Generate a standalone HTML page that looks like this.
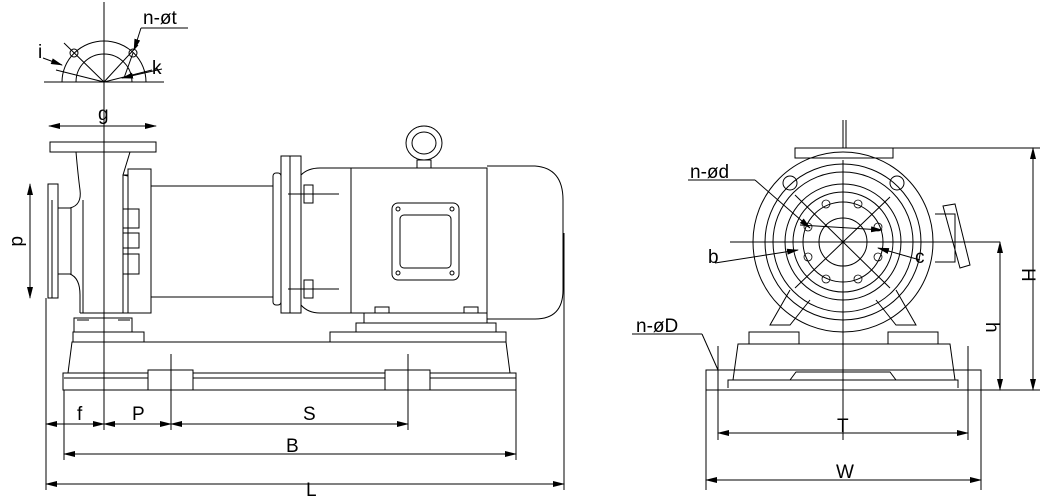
<!DOCTYPE html>
<html><head><style>
body{margin:0;background:#fff;}
svg{display:block}
text{font-family:"Liberation Sans",sans-serif;font-size:19px;fill:#000}
</style></head><body>
<svg width="1055" height="498" viewBox="0 0 1055 498" xmlns="http://www.w3.org/2000/svg">
<defs><marker id="a" markerWidth="12" markerHeight="6" refX="11" refY="3" orient="auto-start-reverse" markerUnits="userSpaceOnUse"><path d="M0,0 L12,3 L0,6z" fill="#000"/></marker></defs>
<g fill="none" stroke="#000" stroke-width="1">
<!-- small flange detail -->
<line x1="104" y1="2" x2="104" y2="92"/>
<line x1="44" y1="82" x2="164" y2="82"/>
<path d="M62,82 A42,41 0 0 1 146,82"/>
<path d="M76,82 A28,28 0 0 1 132,82"/>
<circle cx="74" cy="53" r="4"/><circle cx="133" cy="53" r="4"/>
<line x1="104" y1="82" x2="64" y2="43"/><line x1="104" y1="82" x2="138" y2="45"/>
<line x1="104" y1="82" x2="152" y2="70"/><line x1="104" y1="82" x2="56" y2="70"/>
<line x1="141" y1="28" x2="188" y2="28"/><line x1="141" y1="28" x2="134" y2="50" marker-end="url(#a)"/>
<line x1="133" y1="53" x2="124" y2="78"/>
<line x1="43" y1="58" x2="62" y2="65" marker-end="url(#a)"/>
<line x1="162" y1="69" x2="122" y2="78" marker-end="url(#a)"/>
<!-- g dim -->
<line x1="49" y1="126" x2="156" y2="126" marker-start="url(#a)" marker-end="url(#a)"/>
<!-- pump -->
<rect x="50" y="142" width="106" height="10"/>
<line x1="68" y1="142" x2="138" y2="142"/>
<path d="M76,152 Q78,175 80,190 Q82,205 70,208 L58,208"/>
<path d="M58,274 L70,274 Q80,278 80,295 L80,313"/>
<path d="M130,152 L123,175 L128,176"/>
<rect x="48" y="184" width="10" height="114"/>
<line x1="52" y1="200" x2="52" y2="298"/>
<rect x="58" y="208" width="13" height="66"/>
<line x1="83" y1="200" x2="83" y2="313"/>
<line x1="80" y1="313" x2="128" y2="313"/>
<rect x="128" y="169" width="23" height="144"/>
<rect x="123" y="175" width="5" height="138"/>
<rect x="123" y="209" width="16" height="19"/><rect x="123" y="233" width="16" height="15"/><rect x="123" y="254" width="16" height="20"/>
<rect x="151" y="186" width="122" height="111"/>
<rect x="273" y="173" width="8" height="132" rx="3"/>
<rect x="281" y="156" width="20" height="157"/><line x1="290" y1="156" x2="290" y2="313"/>
<path d="M301,175 Q308,168 320,168 L487,168 L487,313 L320,313 Q308,313 301,305"/>
<line x1="351" y1="168" x2="351" y2="313"/>
<rect x="304" y="185" width="9" height="18"/><rect x="304" y="280" width="9" height="18"/>
<line x1="288" y1="194" x2="339" y2="194"/><line x1="288" y1="289" x2="339" y2="289"/>
<path d="M487,166 L535,166 Q563,168 563,200 L563,290 Q563,319 535,319 L487,319"/>
<ellipse cx="424" cy="143" rx="18" ry="17"/><ellipse cx="424" cy="143" rx="12" ry="11"/>
<rect x="417" y="160" width="14" height="8"/>
<rect x="392" y="203" width="67" height="77" rx="6"/><rect x="400" y="215" width="51" height="53" rx="4"/>
<circle cx="398" cy="209" r="2"/><circle cx="452" cy="209" r="2"/><circle cx="398" cy="273" r="2"/><circle cx="452" cy="273" r="2"/>
<!-- feet & base -->
<rect x="375" y="307" width="14" height="6"/><rect x="464" y="307" width="14" height="6"/>
<rect x="364" y="313" width="123" height="10"/><rect x="356" y="323" width="140" height="9"/><rect x="330" y="332" width="176" height="10"/>
<rect x="74" y="318" width="58" height="14"/><rect x="73" y="332" width="71" height="10"/>
<line x1="77" y1="320" x2="89" y2="320"/><line x1="118" y1="320" x2="130" y2="320"/>
<path d="M72,342 L506,342 L510,373 L68,373 Z"/>
<rect x="63" y="373" width="453" height="17"/>
<line x1="64" y1="378" x2="516" y2="378"/>
<rect x="148" y="370" width="45" height="20" fill="#fff"/><rect x="385" y="370" width="45" height="20" fill="#fff"/>
<line x1="104" y1="88" x2="104" y2="430"/>
<line x1="171" y1="354" x2="171" y2="430"/><line x1="408" y1="354" x2="408" y2="430"/>
<line x1="46" y1="298" x2="46" y2="490"/><line x1="64" y1="390" x2="64" y2="460"/><line x1="516" y1="390" x2="516" y2="460"/><line x1="564" y1="233" x2="564" y2="490"/>
<line x1="30" y1="184" x2="30" y2="298" marker-start="url(#a)" marker-end="url(#a)"/>
<line x1="46" y1="424" x2="104" y2="424" marker-start="url(#a)" marker-end="url(#a)"/>
<line x1="104" y1="424" x2="171" y2="424" marker-start="url(#a)" marker-end="url(#a)"/>
<line x1="171" y1="424" x2="408" y2="424" marker-start="url(#a)" marker-end="url(#a)"/>
<line x1="64" y1="454" x2="516" y2="454" marker-start="url(#a)" marker-end="url(#a)"/>
<line x1="46" y1="484" x2="564" y2="484" marker-start="url(#a)" marker-end="url(#a)"/>
<!-- right view -->
<rect x="795" y="148" width="98" height="10"/>
<line x1="843" y1="120" x2="843" y2="148"/><line x1="846" y1="120" x2="846" y2="148"/>
<circle cx="843" cy="242" r="90"/><circle cx="843" cy="242" r="78"/><circle cx="843" cy="242" r="70"/>
<circle cx="843" cy="242" r="58"/><circle cx="843" cy="242" r="50"/><circle cx="843" cy="242" r="40"/><circle cx="843" cy="242" r="24"/>
<circle cx="790" cy="183" r="7"/><circle cx="897" cy="183" r="7"/>
<g stroke-width="0.8">
<circle cx="826" cy="204" r="4"/><circle cx="858" cy="204" r="4"/><circle cx="808" cy="227" r="4"/><circle cx="878" cy="227" r="4"/>
<circle cx="808" cy="257" r="4"/><circle cx="878" cy="257" r="4"/><circle cx="826" cy="279" r="4"/><circle cx="858" cy="279" r="4"/>
</g>
<line x1="730" y1="242" x2="1000" y2="242"/><line x1="843" y1="160" x2="843" y2="440"/>
<line x1="795" y1="195" x2="890" y2="288"/><line x1="890" y1="197" x2="795" y2="288"/>
<path d="M935,214 L955,214 L955,262 L935,262"/><path d="M943,206 L955,204 L970,265 L960,268 Z"/>
<line x1="688" y1="180" x2="755" y2="180"/><line x1="755" y1="180" x2="810" y2="228" marker-end="url(#a)"/>
<line x1="800" y1="225" x2="882" y2="230" marker-end="url(#a)"/>
<line x1="715" y1="263" x2="798" y2="250" marker-end="url(#a)"/>
<line x1="920" y1="260" x2="878" y2="248" marker-end="url(#a)"/>
<path d="M790,290 L770,325 L790,325 L810,300"/><path d="M896,290 L916,325 L896,325 L876,300"/>
<rect x="749" y="332" width="50" height="12"/><rect x="888" y="332" width="50" height="12"/>
<path d="M738,344 L950,344 L955,380 L733,380 Z"/>
<path d="M728,388 L728,380 L790,380 L796,372 L890,372 L896,380 L958,380 L958,388"/>
<rect x="706" y="370" width="275" height="20"/>
<line x1="718" y1="346" x2="718" y2="440"/><line x1="968" y1="346" x2="968" y2="440"/>
<line x1="706" y1="390" x2="706" y2="490"/><line x1="981" y1="390" x2="981" y2="490"/>
<line x1="632" y1="334" x2="702" y2="334"/><line x1="702" y1="334" x2="718" y2="370"/>
<line x1="893" y1="148" x2="1040" y2="148"/><line x1="981" y1="390" x2="1040" y2="390"/>
<line x1="1033" y1="148" x2="1033" y2="390" marker-start="url(#a)" marker-end="url(#a)"/>
<line x1="1000" y1="242" x2="1000" y2="390" marker-start="url(#a)" marker-end="url(#a)"/>
<line x1="718" y1="433" x2="968" y2="433" marker-start="url(#a)" marker-end="url(#a)"/>
<line x1="706" y1="480" x2="981" y2="480" marker-start="url(#a)" marker-end="url(#a)"/>
</g>
<text x="143" y="24">n-øt</text><text x="38" y="58">i</text><text x="152" y="74">k</text>
<text x="98" y="120">g</text>
<text x="12" y="248" transform="rotate(90 18 242)">d</text>
<text x="77" y="420">f</text><text x="132" y="420">P</text><text x="303" y="420">S</text>
<text x="286" y="452">B</text><text x="306" y="496">L</text>
<text x="690" y="178">n-ød</text><text x="708" y="263">b</text><text x="915" y="263">c</text>
<text x="636" y="332">n-øD</text>
<text x="837" y="432">T</text><text x="836" y="478">W</text>
<text x="1022" y="268" transform="rotate(90 1022 268)">H</text>
<text x="986" y="322" transform="rotate(90 986 322)">h</text>
</svg>
</body></html>
